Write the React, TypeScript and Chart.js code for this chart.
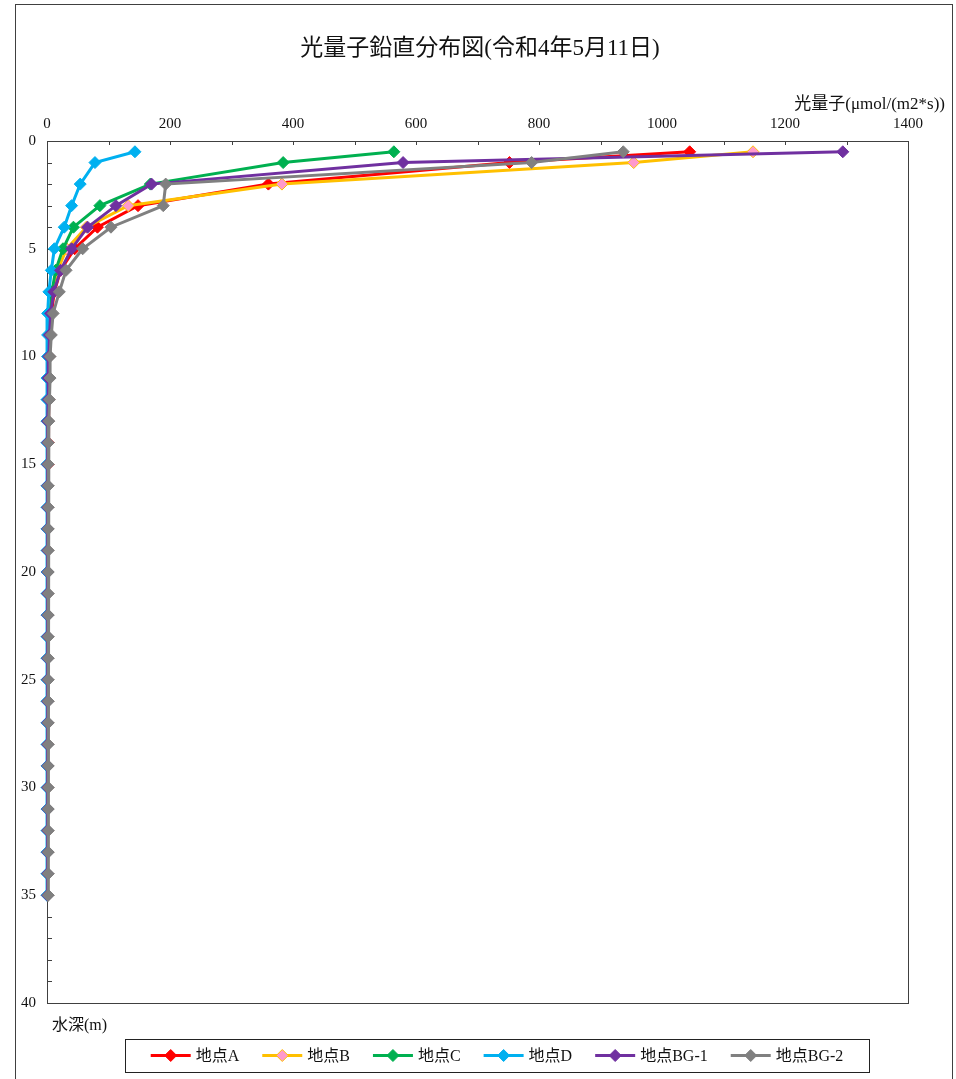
import React, { useEffect, useRef } from "react";
import { Chart, registerables } from "chart.js";

Chart.register(...registerables);

const TITLE = "光量子鉛直分布図(令和4年5月11日)";
const X_TITLE = "光量子(μmol/(m2*s))";
const Y_TITLE = "水深(m)";

const DEPTHS = [
  0.5, 1, 2, 3, 4, 5, 6, 7, 8, 9, 10, 11, 12, 13, 14, 15, 16, 17, 18, 19, 20,
  21, 22, 23, 24, 25, 26, 27, 28, 29, 30, 31, 32, 33, 34, 35,
];

const SITE_A = [
  1045, 752, 360, 148, 82, 45, 22, 12, 7, 5, 4, 3, 3, 2, 2, 2, 1, 1, 1, 1, 1,
  1, 1, 1, 1, 1, 1, 1, 1, 1, 1, 1, 1, 1, 1, 1,
];
const SITE_B = [
  1148, 954, 382, 132, 64, 32, 17, 9, 5, 4, 3, 2, 2, 1, 1, 1, 1, 1, 1, 1, 1,
  1, 1, 1, 1, 1, 1, 1, 1, 1, 1, 1, 1, 1, 1, 1,
];
const SITE_C = [
  564, 384, 168, 86, 43, 26, 14, 8, 5, 3, 2, 2, 1, 1, 1, 1, 1, 1, 1, 1, 1, 1,
  1, 1, 1, 1, 1, 1, 1, 1, 1, 1, 1, 1, 1, 1,
];
const SITE_D = [
  143, 78, 54, 40, 28, 12, 7, 3, 1, 1, 1, 0, 0, 0, 0, 0, 0, 0, 0, 0, 0, 0, 0,
  0, 0, 0, 0, 0, 0, 0, 0, 0, 0, 0, 0, 0,
];
const SITE_BG1 = [
  1294, 579, 170, 112, 66, 40, 22, 11, 6, 4, 3, 2, 2, 1, 1, 1, 1, 1, 1, 1, 1,
  1, 1, 1, 1, 1, 1, 1, 1, 1, 1, 1, 1, 1, 1, 1,
];
const SITE_BG2 = [
  937, 788, 193, 189, 104, 58, 31, 20, 10, 7, 5, 5, 4, 3, 2, 2, 2, 2, 2, 2, 2,
  2, 2, 2, 2, 2, 2, 2, 2, 2, 2, 2, 2, 2, 2, 2,
];

const SERIES_NAMES = ["地点A", "地点B", "地点C", "地点D", "地点BG-1", "地点BG-2"];
const SERIES_VALUES = [SITE_A, SITE_B, SITE_C, SITE_D, SITE_BG1, SITE_BG2];
const LINE_COLORS = ["#FF0000", "#FFC000", "#00B050", "#00B0F0", "#7030A0", "#808080"];
const MARKER_COLORS = ["#FF0000", "#FF99CC", "#00B050", "#00B0F0", "#7030A0", "#808080"];

const X_MIN = 0;
const X_MAX = 1400;
const X_STEP = 200;
const Y_MIN = 0;
const Y_MAX = 40;
const Y_STEP = 5;

const FONT = "'Liberation Serif', 'Noto Sans CJK JP', serif";

function drawDiamond(ctx: CanvasRenderingContext2D, x: number, y: number, r: number, fill: string, stroke: string) {
  ctx.beginPath();
  ctx.moveTo(x, y - r);
  ctx.lineTo(x + r, y);
  ctx.lineTo(x, y + r);
  ctx.lineTo(x - r, y);
  ctx.closePath();
  ctx.fillStyle = fill;
  ctx.fill();
  ctx.lineWidth = 1;
  ctx.strokeStyle = stroke;
  ctx.stroke();
}

const framePlugin = {
  id: "frame",
  beforeDatasetsDraw(chart: any) {
    const ctx: CanvasRenderingContext2D = chart.ctx;
    const area = chart.chartArea;
    const xs = chart.scales.x;
    const ys = chart.scales.y;
    ctx.save();
    ctx.strokeStyle = "#404040";
    ctx.lineWidth = 1;
    ctx.strokeRect(Math.round(area.left) + 0.5, Math.round(area.top) + 0.5, Math.round(area.right - area.left), Math.round(area.bottom - area.top));
    ctx.beginPath();
    for (let v = Y_MIN; v <= Y_MAX; v += 1) {
      const py = Math.round(ys.getPixelForValue(v)) + 0.5;
      ctx.moveTo(area.left, py);
      ctx.lineTo(area.left + 5, py);
    }
    for (let v = X_MIN; v <= X_MAX; v += 100) {
      const px = Math.round(xs.getPixelForValue(v)) + 0.5;
      ctx.moveTo(px, area.top);
      ctx.lineTo(px, area.top + 4);
    }
    ctx.stroke();
    ctx.restore();
  },
};

const decorPlugin = {
  id: "decor",
  afterDraw(chart: any) {
    const ctx: CanvasRenderingContext2D = chart.ctx;
    ctx.save();

    // outer frame
    ctx.strokeStyle = "#404040";
    ctx.lineWidth = 1;
    ctx.strokeRect(15.5, 4.5, 937, 1110);

    // title
    ctx.fillStyle = "#111";
    ctx.font = `23px ${FONT}`;
    ctx.textAlign = "center";
    ctx.textBaseline = "middle";
    ctx.fillText(TITLE, 480, 49);

    // axis titles
    ctx.font = `17px ${FONT}`;
    ctx.textAlign = "right";
    ctx.fillText(X_TITLE, 945, 105);
    ctx.font = `16px ${FONT}`;
    ctx.textAlign = "left";
    ctx.fillText(Y_TITLE, 52, 1026);

    // legend
    const boxL = 125, boxT = 1039, boxW = 744, boxH = 33;
    ctx.strokeStyle = "#222";
    ctx.strokeRect(boxL + 0.5, boxT + 0.5, boxW, boxH);
    ctx.font = `16px ${FONT}`;
    const sampleW = 40, gapText = 5, gapItem = 23;
    const widths = SERIES_NAMES.map((n) => sampleW + gapText + ctx.measureText(n).width);
    const total = widths.reduce((a, b) => a + b, 0) + gapItem * (SERIES_NAMES.length - 1);
    let x0 = boxL + (boxW - total) / 2;
    const cy = boxT + boxH / 2;
    SERIES_NAMES.forEach((name, i) => {
      ctx.beginPath();
      ctx.strokeStyle = LINE_COLORS[i];
      ctx.lineWidth = 3;
      ctx.moveTo(x0, cy);
      ctx.lineTo(x0 + sampleW, cy);
      ctx.stroke();
      drawDiamond(ctx, x0 + sampleW / 2, cy, 6, MARKER_COLORS[i], i === 1 ? LINE_COLORS[i] : MARKER_COLORS[i]);
      ctx.fillStyle = "#111";
      ctx.textAlign = "left";
      ctx.textBaseline = "middle";
      ctx.fillText(name, x0 + sampleW + gapText, cy + 1);
      x0 += widths[i] + gapItem;
    });

    ctx.restore();
  },
};

export default function App() {
  const ref = useRef<HTMLCanvasElement | null>(null);

  useEffect(() => {
    if (!ref.current) return;
    const datasets = SERIES_NAMES.map((name, i) => ({
      label: name,
      data: SERIES_VALUES[i].map((v, j) => ({ x: v, y: DEPTHS[j] })),
      borderColor: LINE_COLORS[i],
      backgroundColor: MARKER_COLORS[i],
      borderWidth: 3,
      pointStyle: "rectRot" as const,
      pointRadius: 6,
      pointBackgroundColor: MARKER_COLORS[i],
      pointBorderColor: i === 1 ? LINE_COLORS[i] : MARKER_COLORS[i],
      pointBorderWidth: 1,
      tension: 0,
      fill: false,
      clip: false as any,
      order: SERIES_NAMES.length - i,
    }));

    const chart = new Chart(ref.current, {
      type: "line",
      data: { datasets },
      options: {
        animation: false,
        responsive: false,
        devicePixelRatio: 1,
        layout: { padding: { left: 0, top: 0, right: 48, bottom: 76 } },
        plugins: {
          legend: { display: false },
          title: { display: false },
          tooltip: { enabled: false },
        },
        scales: {
          x: {
            type: "linear",
            position: "top",
            min: X_MIN,
            max: X_MAX,
            grid: { display: false, drawTicks: false },
            border: { display: false },
            ticks: {
              stepSize: X_STEP,
              padding: 8,
              color: "#111",
              font: { family: FONT, size: 15 },
              maxRotation: 0,
              callback: (v: any) => String(v),
            },
            afterFit: (scale: any) => {
              scale.height = 141;
            },
          },
          y: {
            type: "linear",
            reverse: true,
            min: Y_MIN,
            max: Y_MAX,
            grid: { display: false, drawTicks: false },
            border: { display: false },
            ticks: {
              stepSize: Y_STEP,
              padding: 11,
              color: "#111",
              font: { family: FONT, size: 15 },
              callback: (v: any) => String(v),
            },
            afterFit: (scale: any) => {
              scale.width = 47;
            },
          },
        },
      },
      plugins: [framePlugin, decorPlugin],
    });
    return () => chart.destroy();
  }, []);

  return (
    <div style={{ position: "absolute", left: 0, top: 0, width: 956, height: 1079, background: "#fff" }}>
      <canvas ref={ref} width={956} height={1079} style={{ display: "block" }} />
    </div>
  );
}
